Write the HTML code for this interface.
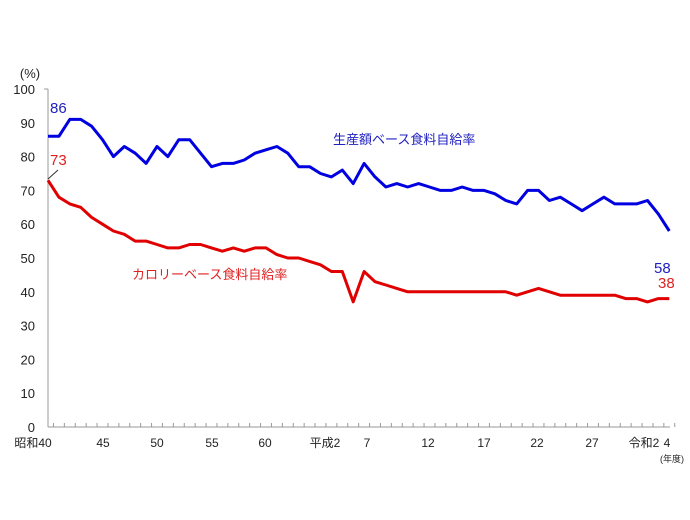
<!DOCTYPE html>
<html><head><meta charset="utf-8">
<style>
html,body{margin:0;padding:0;background:#fff;}
svg{display:block;font-family:"Liberation Sans","Noto Sans CJK JP",sans-serif;}
</style></head>
<body>
<svg id="c" width="690" height="520" viewBox="0 0 690 520">
<g stroke="#999" stroke-width="1" fill="none">
<line x1="48" y1="89" x2="48" y2="427"/>
<line x1="44" y1="89" x2="48" y2="89"/>
<line x1="48" y1="427" x2="670" y2="427"/>
</g>
<g id="yt" font-size="13" fill="#222" text-anchor="end"></g>
<g id="xt" stroke="#999" stroke-width="1"></g>
<g font-size="12" fill="#222" text-anchor="middle">
<text x="33" y="447">昭和40</text>
<text x="103" y="447">45</text>
<text x="157" y="447">50</text>
<text x="212" y="447">55</text>
<text x="265" y="447">60</text>
<text x="325" y="447">平成2</text>
<text x="367" y="447">7</text>
<text x="428" y="447">12</text>
<text x="484" y="447">17</text>
<text x="537" y="447">22</text>
<text x="592" y="447">27</text>
<text x="644" y="447">令和2</text>
<text x="667" y="447">4</text>
<text x="672" y="462" font-size="9">(年度)</text>
<text x="30" y="78" font-size="13">(%)</text>
</g>
<polyline id="b" fill="none" stroke="#0000e0" stroke-width="3" stroke-linejoin="round"/>
<polyline id="r" fill="none" stroke="#e00000" stroke-width="3" stroke-linejoin="round"/>
<line x1="48" y1="179" x2="58" y2="170" stroke="#333" stroke-width="1"/>
<g font-size="15">
<text x="50" y="113" fill="#2020c0">86</text>
<text x="50" y="165" fill="#e02020">73</text>
<text x="654" y="273" fill="#2020c0">58</text>
<text x="658" y="288" fill="#e02020">38</text>
<text x="333" y="144" fill="#2020c0" font-size="13">生産額ベース食料自給率</text>
<text x="132" y="279" fill="#e02020" font-size="13">カロリーベース食料自給率</text>
</g>
</svg>
<script>
var B=[86,86,91,91,89,85,80,83,81,78,83,80,85,85,81,77,78,78,79,81,82,83,81,77,77,75,74,76,72,78,74,71,72,71,72,71,70,70,71,70,70,69,67,66,70,70,67,68,66,64,66,68,66,66,66,67,63,58];
var R=[73,68,66,65,62,60,58,57,55,55,54,53,53,54,54,53,52,53,52,53,53,51,50,50,49,48,46,46,37,46,43,42,41,40,40,40,40,40,40,40,40,40,40,39,40,41,40,39,39,39,39,39,39,38,38,37,38,37,38,38];
R=R.slice(0,54).concat([38,37,38,38]);
function X(i){return 48+i*10.9;}function Y(v){return 427-v*3.38;}
function pts(a){return a.map(function(v,i){return X(i).toFixed(1)+","+Y(v).toFixed(1)}).join(" ");}
document.getElementById('b').setAttribute('points',pts(B));
document.getElementById('r').setAttribute('points',pts(R));
var ns="http://www.w3.org/2000/svg",yt=document.getElementById('yt'),xt=document.getElementById('xt');
for(var v=0;v<=100;v+=10){var t=document.createElementNS(ns,'text');t.setAttribute('x',35);t.setAttribute('y',Y(v)+5);t.textContent=v;yt.appendChild(t);}
for(var i=0;i<=57;i++){var l=document.createElementNS(ns,'line');var x=X(i)+5.45;l.setAttribute('x1',x);l.setAttribute('x2',x);l.setAttribute('y1',423);l.setAttribute('y2',427);xt.appendChild(l);}
</script>
</body></html>
